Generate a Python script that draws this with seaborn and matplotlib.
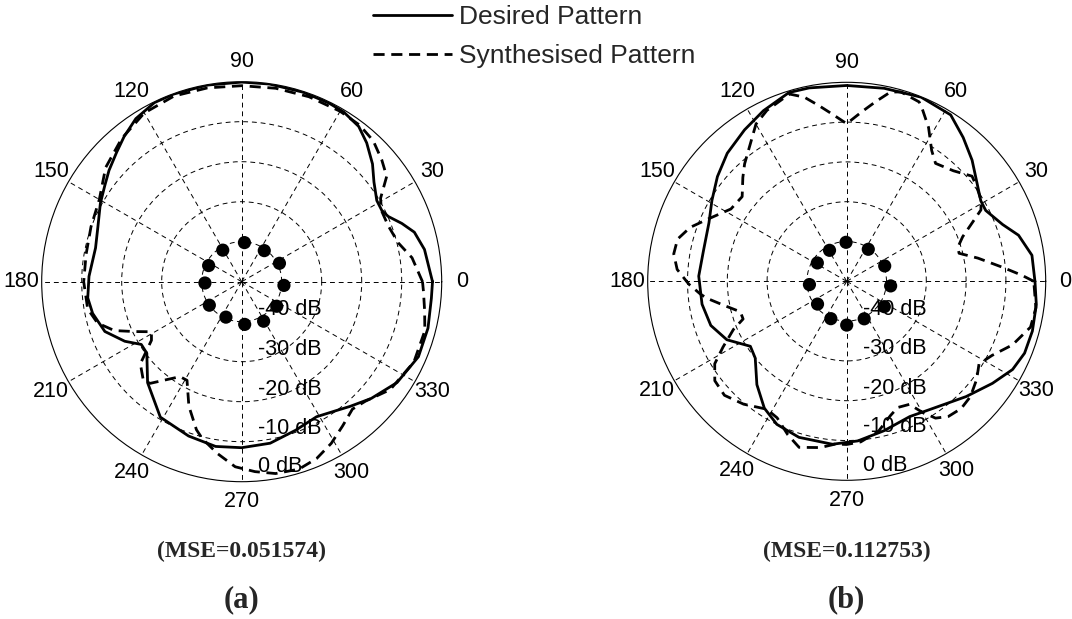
import numpy as np
import pandas as pd
import matplotlib
matplotlib.use("Agg")
import matplotlib.pyplot as plt
from matplotlib.lines import Line2D
import seaborn as sns

sns.set_style("white")
plt.rcParams['font.family'] = ['Liberation Sans', 'DejaVu Sans']

# ---------------- data (dB vs angle in degrees) ----------------
theta_ticks = [0, 30, 60, 90, 120, 150, 180, 210, 240, 270, 300, 330]
rho_ticks = [-40, -30, -20, -10, 0]
rho_labels = ["-40 dB", "-30 dB", "-20 dB", "-10 dB", "0 dB"]

left_desired_deg = [0, 10, 16, 20, 24, 27, 31, 37, 42, 48, 53, 59, 64, 72, 82, 90, 100, 110, 116,
                    123, 129, 134, 140, 145, 151, 159, 167, 178, 186, 192, 200, 207, 212, 217, 227,
                    239, 251, 261, 270, 280, 290, 299, 306, 311, 318, 327, 337, 346, 355]
left_desired_db = [-2.3, -3.6, -5.1, -7.4, -9.9, -10.7, -10.6, -8.6, -6.0, -3.3, -1.4, -0.5, -0.3,
                   -0.2, -0.1, -0.1, -0.1, -0.1, -0.2, -1.4, -3.3, -5.0, -6.7, -8.2, -9.6, -11.5,
                   -12.5, -11.8, -11.3, -11.9, -13.6, -17.2, -20.4, -20.3, -15.5, -10.5, -9.2,
                   -8.3, -8.5, -9.0, -10.5, -11.4, -10.1, -8.7, -6.4, -3.7, -2.0, -2.0, -2.4]

left_synth_deg = [0, 8, 14, 21, 27, 31, 36, 41, 47, 53, 60, 70, 80, 90, 100, 110, 120, 130, 140,
                  150, 160, 170, 180, 190, 196, 201, 205, 209, 213, 219, 225, 228, 232, 237, 241,
                  247, 253, 256, 262, 268, 274, 280, 287, 293, 299, 305, 311, 316, 324, 335, 345,
                  351, 357]
left_synth_db = [-4.8, -7.0, -9.7, -10.8, -10.8, -9.5, -5.2, -3.6, -1.8, -1.0, -0.8, -0.8, -0.9,
                 -1.0, -0.8, -0.6, -1.3, -3.3, -5.6, -8.9, -9.9, -10.5, -10.5, -10.9, -12.5,
                 -15.9, -20.5, -24.2, -23.1, -17.4, -15.2, -15.8, -18.8, -21.7, -21.8, -16.2,
                 -11.3, -9.5, -6.6, -3.7, -2.4, -1.3, -1.0, -2.0, -3.8, -6.0, -7.8, -7.0, -4.1,
                 -2.5, -2.6, -3.7, -4.5]

right_desired_deg = [0, 8, 15, 20, 27, 31, 37, 44, 51, 58, 68, 79, 90, 101, 107, 116, 124, 133,
                     141, 149, 157, 168, 178, 189, 198, 206, 214, 220, 229, 237, 244, 253, 265,
                     274, 284, 295, 303, 316, 325, 332, 338, 345, 353]
right_desired_db = [-2.7, -3.0, -5.3, -8.3, -10.8, -10.7, -9.0, -6.2, -3.5, -0.7, -0.1, -0.6,
                    -0.8, -0.5, -0.4, -2.3, -4.1, -6.0, -8.2, -10.5, -12.4, -13.2, -12.8, -13.2,
                    -14.1, -16.5, -20.8, -20.0, -15.6, -12.0, -10.0, -9.0, -8.9, -9.8, -11.3,
                    -12.5, -11.6, -8.3, -5.3, -2.8, -1.8, -1.7, -2.0]

right_synth_deg = [0, 2, 5, 10, 14, 17, 21, 25, 28, 31, 36, 40, 46, 53, 57, 62, 66, 68, 74, 77,
                   81, 85, 90, 95, 99, 103, 107, 115, 120, 125, 131, 135, 141, 148, 152, 156, 161,
                   166, 171, 176, 181, 185, 187, 191, 196, 200, 203, 208, 212, 217, 223, 230, 238,
                   243, 249, 254, 261, 266, 270, 275, 282, 288, 292, 297, 300, 303, 307, 312, 317,
                   323, 328, 333, 339, 346, 352]
right_synth_db = [-3.0, -6.0, -10.5, -16.5, -20.9, -20.8, -18.8, -15.2, -11.8, -10.6, -9.6, -8.9,
                  -11.4, -12.9, -10.8, -6.2, -3.0, -1.4, -0.5, -1.2, -4.4, -7.3, -10.4, -7.8,
                  -5.3, -2.5, -0.8, -2.6, -4.4, -7.8, -10.9, -13.1, -16.2, -15.7, -13.9, -11.7,
                  -8.4, -6.2, -6.0, -7.3, -10.3, -13.1, -14.7, -18.5, -22.2, -22.3, -19.1, -14.8,
                  -10.9, -8.5, -8.0, -9.7, -12.1, -11.5, -8.7, -6.6, -7.7, -9.0, -9.0, -9.5,
                  -11.5, -14.5, -15.8, -15.3, -12.0, -9.0, -7.5, -7.0, -7.5, -9.1, -10.8, -9.0,
                  -5.4, -2.4, -2.0]

# circular array element positions (angle deg, radius in dB-scale units above floor)
left_elem_deg = [86, 54, 26, -5, -35, -61, -86, -114, -144, -178, 154, 121]
left_elem_rad = [9.8, 9.6, 10.5, 10.6, 10.7, 11.3, 10.7, 9.7, 10.0, 9.2, 9.2, 9.2]
right_elem_deg = [91, 56, 22, -6, -34, -65, -90, -113, -142, -175, 148, 119]
right_elem_rad = [9.8, 9.7, 10.3, 11.1, 11.4, 10.4, 11.0, 10.2, 9.3, 9.4, 8.7, 8.9]

captions_mse = ["(MSE=0.051574)", "(MSE=0.112753)"]
captions_tag = ["(a)", "(b)"]

FLOOR = 50.0  # -50 dB at the centre

W, H = 1072, 619
fig = plt.figure(figsize=(W / 100, H / 100), dpi=100)

DASH = (0, (4, 2.4))
GRID_DASH = (0, (5, 4))


def to_frame(deg, db):
    deg = list(deg) + [deg[0] + 360]
    db = list(db) + [db[0]]
    return pd.DataFrame({"theta": np.deg2rad(deg), "r": np.array(db) + FLOOR})


def polar_panel(cx, cy, R, desired, synth, elem):
    ax = fig.add_axes([(cx - R) / W, 1 - (cy + R) / H, 2 * R / W, 2 * R / H], projection="polar")
    ax.set_facecolor("white")
    ax.set_ylim(0, FLOOR)
    ax.set_yticks([t + FLOOR for t in rho_ticks[:-1]])
    ax.set_yticklabels([])
    ax.set_xticks(np.deg2rad(theta_ticks))
    ax.set_xticklabels([])
    ax.grid(True, color="black", linewidth=0.7, linestyle=GRID_DASH)
    ax.spines["polar"].set_color("black")
    ax.spines["polar"].set_linewidth(0.8)

    sns.lineplot(data=to_frame(*desired), x="theta", y="r", ax=ax, sort=False,
                 estimator=None, color="black", linewidth=2.0, legend=False)
    sns.lineplot(data=to_frame(*synth), x="theta", y="r", ax=ax, sort=False,
                 estimator=None, color="black", linewidth=2.0, linestyle=DASH, legend=False)
    ed = pd.DataFrame({"theta": np.deg2rad(elem[0]), "r": elem[1]})
    sns.scatterplot(data=ed, x="theta", y="r", ax=ax, color="black", s=90,
                    edgecolor="none", legend=False, zorder=5)
    ax.set_xlabel("")
    ax.set_ylabel("")
    ax.set_ylim(0, FLOOR)

    for t in theta_ticks:
        ax.text(np.deg2rad(t), FLOOR * 1.1, str(t), ha="center", va="center",
                fontsize=15.5, color="black", clip_on=False)
    ys = [7.0, 17.0, 27.0, 36.6, 46.3]
    for lab, yy in zip(rho_labels, ys):
        x = 4.0
        y = -yy
        ax.text(np.arctan2(y, x), np.hypot(x, y), lab, ha="left", va="center",
                fontsize=15.5, color="black", clip_on=False, zorder=6)
    return ax


polar_panel(241.7, 281.7, 200, (left_desired_deg, left_desired_db),
            (left_synth_deg, left_synth_db), (left_elem_deg, left_elem_rad))
polar_panel(846.7, 281.3, 199, (right_desired_deg, right_desired_db),
            (right_synth_deg, right_synth_db), (right_elem_deg, right_elem_rad))

handles = [Line2D([], [], color="black", linewidth=2.0),
           Line2D([], [], color="black", linewidth=2.0, linestyle=DASH)]
fig.legend(handles, ["Desired Pattern", "Synthesised Pattern"], loc="upper left",
           bbox_to_anchor=(373 / W, 1 - 5.5 / H), frameon=False, fontsize=19,
           handlelength=3.0, handletextpad=0.25, labelspacing=0.54,
           borderpad=0, borderaxespad=0)

for cx, m, t in zip([241.7, 846.7], captions_mse, captions_tag):
    fig.text(cx / W, 1 - 551 / H, m, ha="center", va="center", fontsize=17,
             fontweight="bold", family="Liberation Serif")
    fig.text(cx / W, 1 - 600 / H, t, ha="center", va="center", fontsize=22,
             fontweight="bold", family="Liberation Serif")

fig.savefig("out.png", dpi=100, facecolor="white")
